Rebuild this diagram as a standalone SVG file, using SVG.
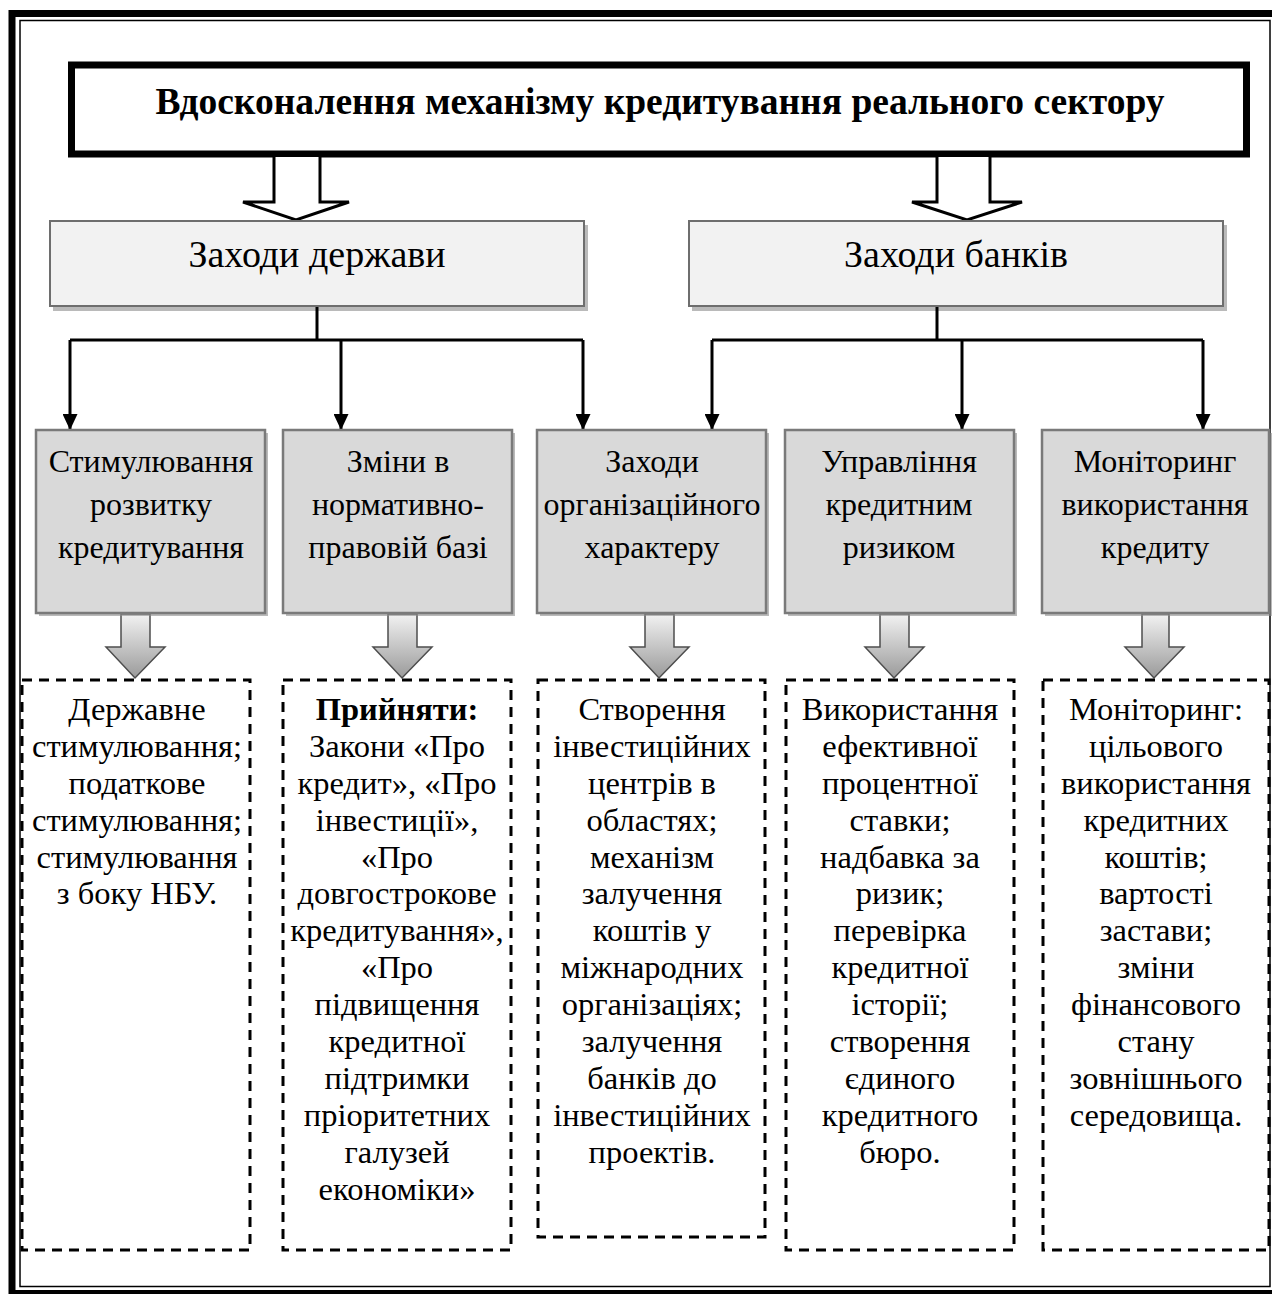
<svg xmlns="http://www.w3.org/2000/svg" width="1272" height="1294" viewBox="0 0 1272 1294">
<defs>
<linearGradient id="g" x1="0" y1="0" x2="0" y2="1">
<stop offset="0" stop-color="#f2f2f2"/>
<stop offset="1" stop-color="#9a9a9a"/>
</linearGradient>
<marker id="ah" markerWidth="16" markerHeight="15" refX="16" refY="7.5" orient="auto" markerUnits="userSpaceOnUse" viewBox="0 0 16 15">
<path d="M0,0 L16,7.5 L0,15 z" fill="#000"/>
</marker>
<style>
text{font-family:"Liberation Serif","Times New Roman",serif;fill:#000;text-anchor:middle}
.t{font-size:37.5px;font-weight:bold}
.h{font-size:38px}
.m{font-size:32px}
.d{font-size:32.5px}
.top{fill:#f2f2f2;stroke:#6e6e6e;stroke-width:2}
.mid{fill:#d9d9d9;stroke:#7a7a7a;stroke-width:2.5}
.sh{fill:#8c8c8c;opacity:0.6}
.dash{fill:#fff;stroke:#000;stroke-width:3;stroke-dasharray:10 7}
.conn{fill:none;stroke:#000;stroke-width:3}
.hol{fill:#fff;stroke:#000;stroke-width:3;stroke-linejoin:miter}
.garr{fill:url(#g);stroke:#4d4d4d;stroke-width:1.5}
</style>
</defs>
<rect x="0" y="0" width="1272" height="1294" fill="#fff"/>
<g id="frame">
<rect x="12" y="13.5" width="1275" height="1280" fill="none" stroke="#000" stroke-width="7"/>
<rect x="20" y="20.5" width="1250" height="1266" fill="none" stroke="#000" stroke-width="1.5"/>
</g>
<g id="title">
<rect x="71.5" y="65" width="1175" height="89" fill="#fff" stroke="#000" stroke-width="7"/>
<text class="t" x="660" y="114">Вдосконалення механізму кредитування реального сектору</text>
</g>
<g id="big-arrows">
<path class="hol" d="M274,157 L274,202 L243,202 L296,220 L349,202 L320,202 L320,157"/>
<path class="hol" d="M937,157 L937,202 L912,202 L967,220 L1022,202 L990,202 L990,157"/>
</g>
<g id="state">
<rect class="sh" x="53" y="225" width="535" height="86"/>
<rect class="top" x="50" y="221" width="534" height="85"/>
<text class="h" x="317" y="267">Заходи держави</text>
</g>
<g id="banks">
<rect class="sh" x="692" y="225" width="535" height="86"/>
<rect class="top" x="689" y="221" width="534" height="85"/>
<text class="h" x="956" y="267">Заходи банків</text>
</g>
<g id="connectors">
<path class="conn" d="M317,307 L317,340"/>
<path class="conn" d="M70,340 L583,340"/>
<path class="conn" d="M70,340 L70,430" marker-end="url(#ah)"/>
<path class="conn" d="M341,340 L341,430" marker-end="url(#ah)"/>
<path class="conn" d="M583,340 L583,430" marker-end="url(#ah)"/>
<path class="conn" d="M937,307 L937,340"/>
<path class="conn" d="M712,340 L1203,340"/>
<path class="conn" d="M712,340 L712,430" marker-end="url(#ah)"/>
<path class="conn" d="M962,340 L962,430" marker-end="url(#ah)"/>
<path class="conn" d="M1203,340 L1203,430" marker-end="url(#ah)"/>
<path class="garr" d="M121,614 L121,647 L106,647 L135,678 L165,647 L150,647 L150,614 z"/>
<path class="garr" d="M388,614 L388,647 L373,647 L402,678 L432,647 L417,647 L417,614 z"/>
<path class="garr" d="M645,614 L645,647 L630,647 L659,678 L689,647 L674,647 L674,614 z"/>
<path class="garr" d="M880,614 L880,647 L865,647 L894,678 L924,647 L909,647 L909,614 z"/>
<path class="garr" d="M1142,614 L1142,647 L1125,647 L1154,678 L1184,647 L1169,647 L1169,614 z"/>
</g>
<g id="m1">
<rect class="sh" x="39" y="433" width="229" height="183"/>
<rect class="mid" x="36" y="430" width="229" height="183"/>
<text class="m" x="151" y="472">Стимулювання</text>
<text class="m" x="151" y="515">розвитку</text>
<text class="m" x="151" y="558">кредитування</text>
</g>
<g id="m2">
<rect class="sh" x="286" y="433" width="229" height="183"/>
<rect class="mid" x="283" y="430" width="229" height="183"/>
<text class="m" x="398" y="472">Зміни в</text>
<text class="m" x="398" y="515">нормативно-</text>
<text class="m" x="398" y="558">правовій базі</text>
</g>
<g id="m3">
<rect class="sh" x="540" y="433" width="229" height="183"/>
<rect class="mid" x="537" y="430" width="229" height="183"/>
<text class="m" x="652" y="472">Заходи</text>
<text class="m" x="652" y="515">організаційного</text>
<text class="m" x="652" y="558">характеру</text>
</g>
<g id="m4">
<rect class="sh" x="788" y="433" width="229" height="183"/>
<rect class="mid" x="785" y="430" width="229" height="183"/>
<text class="m" x="899" y="472">Управління</text>
<text class="m" x="899" y="515">кредитним</text>
<text class="m" x="899" y="558">ризиком</text>
</g>
<g id="m5">
<rect class="sh" x="1045" y="433" width="229" height="183"/>
<rect class="mid" x="1042" y="430" width="227" height="183"/>
<text class="m" x="1155" y="472">Моніторинг</text>
<text class="m" x="1155" y="515">використання</text>
<text class="m" x="1155" y="558">кредиту</text>
</g>
<g id="d1">
<rect class="dash" x="22" y="680" width="228" height="570"/>
<text class="d" x="137" y="720">Державне</text>
<text class="d" x="137" y="757">стимулювання;</text>
<text class="d" x="137" y="794">податкове</text>
<text class="d" x="137" y="831">стимулювання;</text>
<text class="d" x="137" y="868">стимулювання</text>
<text class="d" x="137" y="904">з боку НБУ.</text>
</g>
<g id="d2">
<rect class="dash" x="283" y="680" width="228" height="570"/>
<text class="d" x="397" y="720" font-weight="bold">Прийняти:</text>
<text class="d" x="397" y="757">Закони «Про</text>
<text class="d" x="397" y="794">кредит», «Про</text>
<text class="d" x="397" y="831">інвестиції»,</text>
<text class="d" x="397" y="868">«Про</text>
<text class="d" x="397" y="904">довгострокове</text>
<text class="d" x="397" y="941">кредитування»,</text>
<text class="d" x="397" y="978">«Про</text>
<text class="d" x="397" y="1015">підвищення</text>
<text class="d" x="397" y="1052">кредитної</text>
<text class="d" x="397" y="1089">підтримки</text>
<text class="d" x="397" y="1126">пріоритетних</text>
<text class="d" x="397" y="1163">галузей</text>
<text class="d" x="397" y="1200">економіки»</text>
</g>
<g id="d3">
<rect class="dash" x="538" y="680" width="227" height="557"/>
<text class="d" x="652" y="720">Створення</text>
<text class="d" x="652" y="757">інвестиційних</text>
<text class="d" x="652" y="794">центрів в</text>
<text class="d" x="652" y="831">областях;</text>
<text class="d" x="652" y="868">механізм</text>
<text class="d" x="652" y="904">залучення</text>
<text class="d" x="652" y="941">коштів у</text>
<text class="d" x="652" y="978">міжнародних</text>
<text class="d" x="652" y="1015">організаціях;</text>
<text class="d" x="652" y="1052">залучення</text>
<text class="d" x="652" y="1089">банків до</text>
<text class="d" x="652" y="1126">інвестиційних</text>
<text class="d" x="652" y="1163">проектів.</text>
</g>
<g id="d4">
<rect class="dash" x="786" y="680" width="228" height="570"/>
<text class="d" x="900" y="720">Використання</text>
<text class="d" x="900" y="757">ефективної</text>
<text class="d" x="900" y="794">процентної</text>
<text class="d" x="900" y="831">ставки;</text>
<text class="d" x="900" y="868">надбавка за</text>
<text class="d" x="900" y="904">ризик;</text>
<text class="d" x="900" y="941">перевірка</text>
<text class="d" x="900" y="978">кредитної</text>
<text class="d" x="900" y="1015">історії;</text>
<text class="d" x="900" y="1052">створення</text>
<text class="d" x="900" y="1089">єдиного</text>
<text class="d" x="900" y="1126">кредитного</text>
<text class="d" x="900" y="1163">бюро.</text>
</g>
<g id="d5">
<rect class="dash" x="1043" y="680" width="226" height="570"/>
<text class="d" x="1156" y="720">Моніторинг:</text>
<text class="d" x="1156" y="757">цільового</text>
<text class="d" x="1156" y="794">використання</text>
<text class="d" x="1156" y="831">кредитних</text>
<text class="d" x="1156" y="868">коштів;</text>
<text class="d" x="1156" y="904">вартості</text>
<text class="d" x="1156" y="941">застави;</text>
<text class="d" x="1156" y="978">зміни</text>
<text class="d" x="1156" y="1015">фінансового</text>
<text class="d" x="1156" y="1052">стану</text>
<text class="d" x="1156" y="1089">зовнішнього</text>
<text class="d" x="1156" y="1126">середовища.</text>
</g>
</svg>
